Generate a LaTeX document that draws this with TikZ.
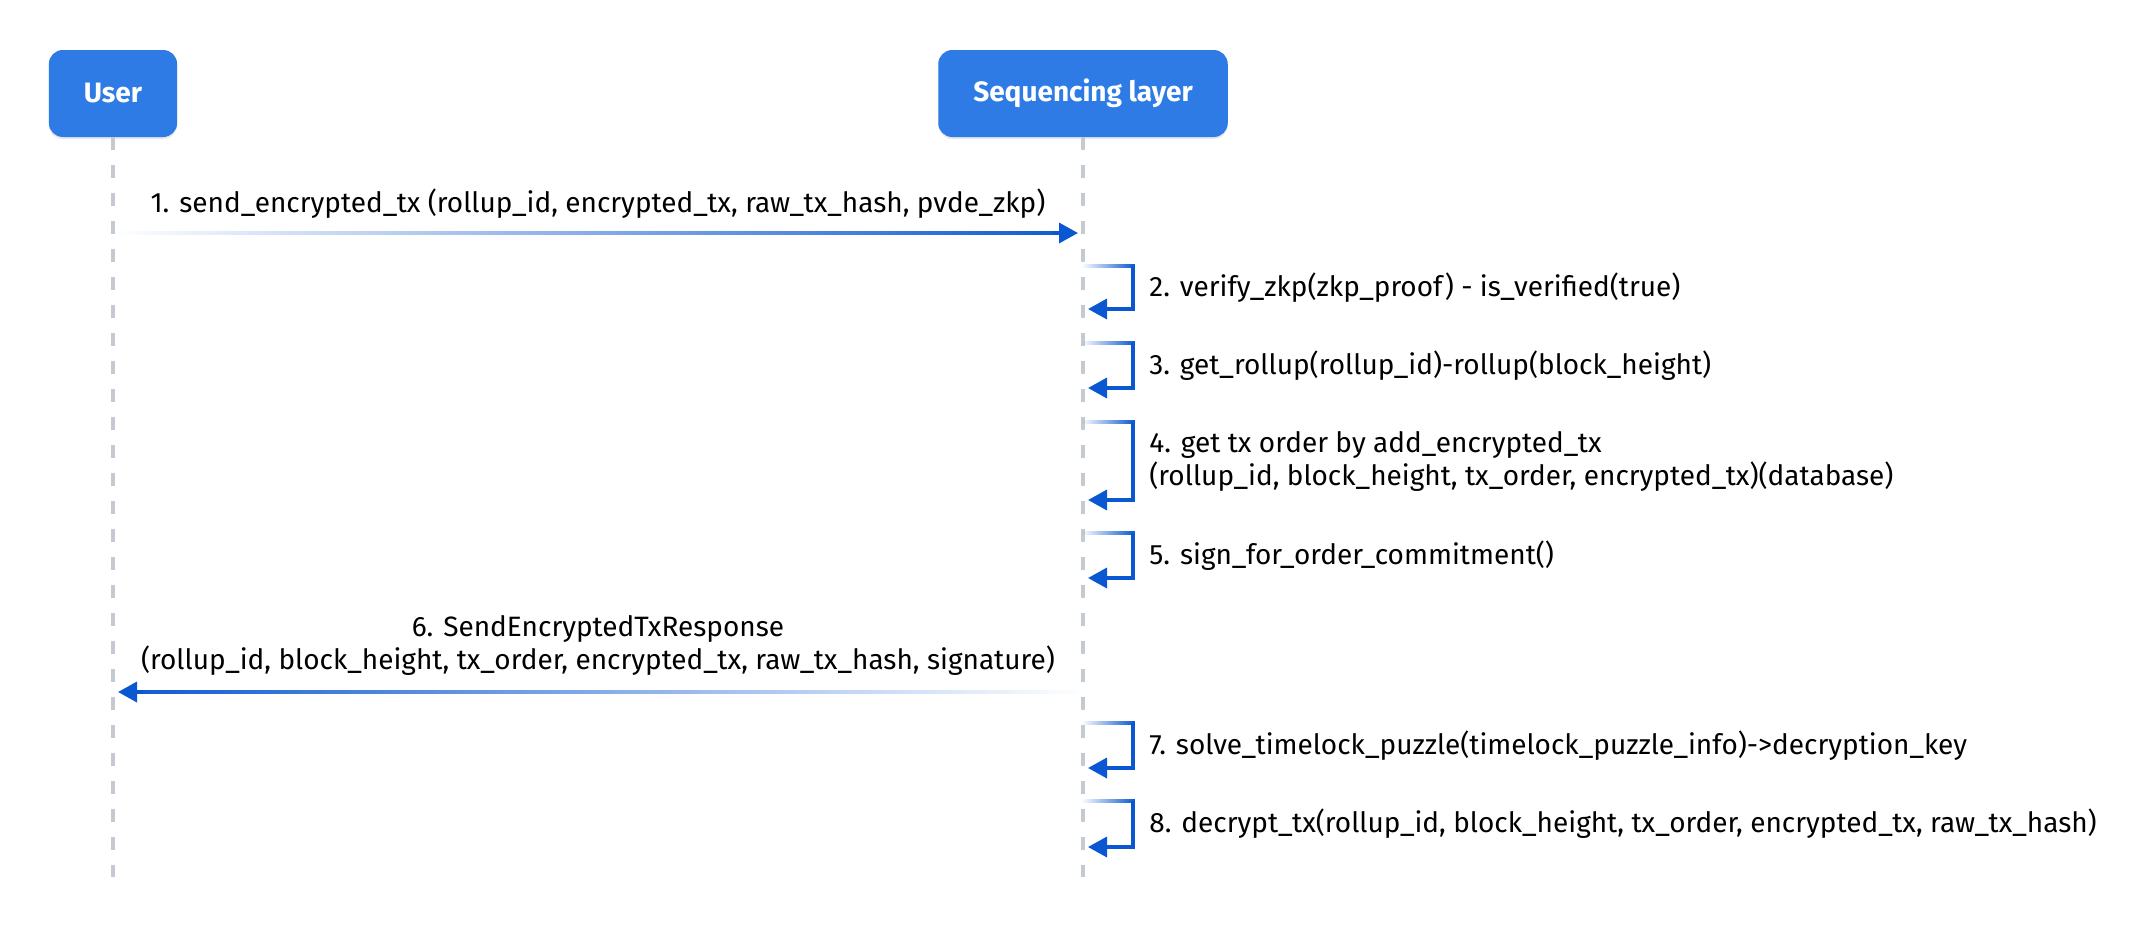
\documentclass[tikz,border=0pt]{standalone}
\usepackage{fontspec}
\setmainfont{Fira Sans}
\usetikzlibrary{positioning,arrows.meta,fadings,shadows,calc}

\definecolor{headblue}{HTML}{2F7BE6}
\definecolor{msgblue}{HTML}{0A57D1}
\definecolor{lifegray}{HTML}{C4C9D2}

\begin{document}
\begin{tikzpicture}[
    x=0.5pt, y=-0.5pt,
    font=\fontsize{14}{16.5}\selectfont,
    head/.style={fill=headblue, rounded corners=7pt, text=white, font=\fontsize{14}{16.5}\selectfont\bfseries,
        inner xsep=17.5pt, minimum height=43.5pt,
        drop shadow={opacity=0.18, shadow xshift=0pt, shadow yshift=-1pt}},
    lifeline/.style={lifegray, line width=1.75pt, dash pattern=on 6.5pt off 7.5pt},
    arrow/.style={-{Triangle[length=9.5pt, width=10pt]}, msgblue, line width=1.75pt, shorten >=2.5pt},
    fadeline/.style={msgblue, line width=1.75pt, path fading=west},
    msglabel/.style={align=center, inner sep=0pt},
    selflabel/.style={align=left, inner sep=0pt}
]
\useasboundingbox (0,0) rectangle (2153,938);

% participants and lifelines
\node[head] (user) at (113,93.5) {User};
\node[head] (seq) at (1083,93.5) {Sequencing layer};
\coordinate (userend) at (user |- 0,877);
\coordinate (seqend) at (seq |- 0,877);
\draw[lifeline] (user.south) -- (userend);
\draw[lifeline] (seq.south) -- (seqend);

% 1
\coordinate (m1) at (0,233);
\draw[fadeline, shorten >=10pt] (user |- m1) -- (seq |- m1);
\draw[arrow] ($(seq |- m1)+(-30,0)$) -- (seq |- m1);
\node[msglabel, anchor=south] (l1) at (598,219) {1. send\_encrypted\_tx (rollup\_id, encrypted\_tx, raw\_tx\_hash, pvde\_zkp)};

% 2
\coordinate (s2) at (seq |- 0,266);
\coordinate (e2) at (seq |- 0,309);
\coordinate (c2) at (1133,287.5);
\draw[fadeline, line cap=rect] (s2) -- (s2 -| c2);
\draw[arrow] (s2 -| c2) -- (e2 -| c2) -- (e2);
\node[selflabel, right=8pt of c2] (l2) {2. verify\_zkp(zkp\_proof) - is\_verified(true)};

% 3
\coordinate (s3) at (seq |- 0,343);
\coordinate (e3) at (seq |- 0,388);
\coordinate (c3) at (1133,365.5);
\draw[fadeline, line cap=rect] (s3) -- (s3 -| c3);
\draw[arrow] (s3 -| c3) -- (e3 -| c3) -- (e3);
\node[selflabel, right=8pt of c3] (l3) {3. get\_rollup(rollup\_id)-rollup(block\_height)};

% 4
\coordinate (s4) at (seq |- 0,422);
\coordinate (e4) at (seq |- 0,500);
\coordinate (c4) at (1133,461);
\draw[fadeline, line cap=rect] (s4) -- (s4 -| c4);
\draw[arrow] (s4 -| c4) -- (e4 -| c4) -- (e4);
\node[selflabel, right=8pt of c4] (l4) {4. get tx order by add\_encrypted\_tx\\(rollup\_id, block\_height, tx\_order, encrypted\_tx)(database)};

% 5
\coordinate (s5) at (seq |- 0,533);
\coordinate (e5) at (seq |- 0,578);
\coordinate (c5) at (1133,555.5);
\draw[fadeline, line cap=rect] (s5) -- (s5 -| c5);
\draw[arrow] (s5 -| c5) -- (e5 -| c5) -- (e5);
\node[selflabel, right=8pt of c5] (l5) {5. sign\_for\_order\_commitment()};

% 6
\coordinate (m6) at (0,692);
\draw[fadeline, path fading=east, shorten >=10pt] (seq |- m6) -- (user |- m6);
\draw[arrow] ($(user |- m6)+(30,0)$) -- (user |- m6);
\node[msglabel, anchor=south] (l6) at (598,676) {6. SendEncryptedTxResponse\\(rollup\_id, block\_height, tx\_order, encrypted\_tx, raw\_tx\_hash, signature)};

% 7
\coordinate (s7) at (seq |- 0,723);
\coordinate (e7) at (seq |- 0,768);
\coordinate (c7) at (1133,745.5);
\draw[fadeline, line cap=rect] (s7) -- (s7 -| c7);
\draw[arrow] (s7 -| c7) -- (e7 -| c7) -- (e7);
\node[selflabel, right=8pt of c7] (l7) {7. solve\_timelock\_puzzle(timelock\_puzzle\_info)->decryption\_key};

% 8
\coordinate (s8) at (seq |- 0,801);
\coordinate (e8) at (seq |- 0,847);
\coordinate (c8) at (1133,824);
\draw[fadeline, line cap=rect] (s8) -- (s8 -| c8);
\draw[arrow] (s8 -| c8) -- (e8 -| c8) -- (e8);
\node[selflabel, right=8pt of c8] (l8) {8. decrypt\_tx(rollup\_id, block\_height, tx\_order, encrypted\_tx, raw\_tx\_hash)};
\end{tikzpicture}
\end{document}
